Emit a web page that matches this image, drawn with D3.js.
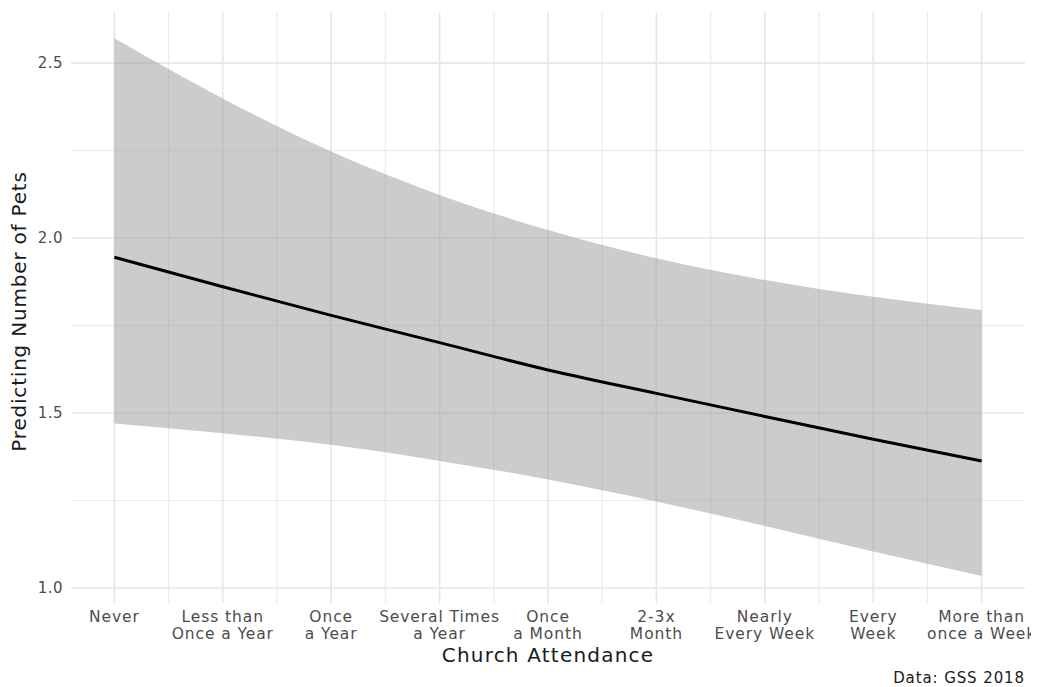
<!DOCTYPE html>
<html>
<head>
<meta charset="utf-8">
<script src="https://cdn.jsdelivr.net/npm/d3@7"></script>
<style>
  body { margin: 0; background: #fff; }
  text { font-family: "DejaVu Sans", sans-serif; }
</style>
</head>
<body>
<div id="chart"></div>
<script>
// categories on the x axis (two-line labels)
var categories = ["Never", "Less than Once a Year", "Once a Year", "Several Times a Year",
    "Once a Month", "2-3x Month", "Nearly Every Week", "Every Week", "More than once a Week"];
var labelLines = [["Never"], ["Less than", "Once a Year"], ["Once", "a Year"], ["Several Times", "a Year"],
    ["Once", "a Month"], ["2-3x", "Month"], ["Nearly", "Every Week"], ["Every", "Week"], ["More than", "once a Week"]];

// predicted values and confidence band
var predicted = [1.945, 1.861, 1.779, 1.701, 1.623, 1.556, 1.490, 1.425, 1.363];
var upper = [2.571, 2.399, 2.247, 2.123, 2.023, 1.942, 1.880, 1.832, 1.794];
var lower = [1.470, 1.442, 1.409, 1.363, 1.310, 1.247, 1.177, 1.104, 1.034];

var yTicks = [1.0, 1.5, 2.0, 2.5];
var yMinor = [1.25, 1.75, 2.25];

var width = 1045, height = 687;
var panel = { left: 71, right: 1025, top: 12, bottom: 603 };

var svg = d3.select("#chart")
    .append("svg")
    .attr("width", width)
    .attr("height", height);

let x = d3.scalePoint()
    .domain(categories)
    .range([panel.left, panel.right])
    .padding(0.4);

let y = d3.scaleLinear()
    .domain([0.957, 2.646])
    .range([panel.bottom, panel.top]);

let data = categories.map(function (c, i) {
    return { cat: c, fit: predicted[i], hi: upper[i], lo: lower[i] };
});

// grid
let grid = svg.append("g").attr("class", "grid");
let step = x.step();
let minorX = categories.slice(0, -1).map(function (c) { return x(c) + step / 2; });

grid.selectAll(".vminor")
    .data(minorX)
    .enter()
    .append("line")
    .attr("x1", function (d) { return d; })
    .attr("x2", function (d) { return d; })
    .attr("y1", panel.top)
    .attr("y2", panel.bottom)
    .attr("stroke", "#ebebeb")
    .attr("stroke-width", 1.2);

grid.selectAll(".hminor")
    .data(yMinor)
    .enter()
    .append("line")
    .attr("x1", panel.left)
    .attr("x2", panel.right)
    .attr("y1", function (d) { return y(d); })
    .attr("y2", function (d) { return y(d); })
    .attr("stroke", "#ebebeb")
    .attr("stroke-width", 1.2);

grid.selectAll(".vmajor")
    .data(categories)
    .enter()
    .append("line")
    .attr("x1", function (d) { return x(d); })
    .attr("x2", function (d) { return x(d); })
    .attr("y1", panel.top)
    .attr("y2", panel.bottom)
    .attr("stroke", "#e6e6e6")
    .attr("stroke-width", 1.6);

grid.selectAll(".hmajor")
    .data(yTicks)
    .enter()
    .append("line")
    .attr("x1", panel.left)
    .attr("x2", panel.right)
    .attr("y1", function (d) { return y(d); })
    .attr("y2", function (d) { return y(d); })
    .attr("stroke", "#e6e6e6")
    .attr("stroke-width", 1.6);

// confidence band
let band = d3.area()
    .x(function (d) { return x(d.cat); })
    .y0(function (d) { return y(d.lo); })
    .y1(function (d) { return y(d.hi); })
    .curve(d3.curveMonotoneX);

svg.append("path")
    .datum(data)
    .attr("d", band)
    .attr("fill", "#999999")
    .attr("fill-opacity", 0.5);

let line = d3.line()
    .x(function (d) { return x(d.cat); })
    .y(function (d) { return y(d.fit); })
    .curve(d3.curveMonotoneX);

svg.append("path")
    .datum(data)
    .attr("d", line)
    .attr("fill", "none")
    .attr("stroke", "#000")
    .attr("stroke-width", 3);

// y axis labels
svg.selectAll(".ylab")
    .data(yTicks)
    .enter()
    .append("text")
    .attr("x", 63)
    .attr("y", function (d) { return y(d); })
    .attr("dy", "0.35em")
    .attr("text-anchor", "end")
    .attr("font-size", 15)
    .attr("letter-spacing", 0.5)
    .attr("fill", "#4d4d4d")
    .text(function (d) { return d.toFixed(1); });

// x axis labels, clipped at the right edge like the original
svg.append("clipPath")
    .attr("id", "xclip")
    .append("rect")
    .attr("x", 0).attr("y", 0)
    .attr("width", 1031).attr("height", height);

let xl = svg.append("g").attr("clip-path", "url(#xclip)");
let xlab = xl.selectAll(".xlab")
    .data(categories)
    .enter()
    .append("text")
    .attr("text-anchor", "middle")
    .attr("font-size", 15.5)
    .attr("letter-spacing", 0.9)
    .attr("fill", "#4d4d4d");

xlab.each(function (d, i) {
    let lines = labelLines[i];
    let t = d3.select(this);
    lines.forEach(function (s, k) {
        t.append("tspan")
            .attr("x", x(d))
            .attr("y", 622 + k * 17)
            .text(s);
    });
});

// titles
svg.append("text")
    .attr("x", (panel.left + panel.right) / 2)
    .attr("y", 662)
    .attr("text-anchor", "middle")
    .attr("font-size", 20)
    .attr("letter-spacing", 1.2)
    .attr("fill", "#1a1a1a")
    .text("Church Attendance");

svg.append("text")
    .attr("transform", "translate(26," + ((panel.top + panel.bottom) / 2 + 4) + ") rotate(-90)")
    .attr("text-anchor", "middle")
    .attr("font-size", 20)
    .attr("letter-spacing", 0.8)
    .attr("fill", "#1a1a1a")
    .text("Predicting Number of Pets");

svg.append("text")
    .attr("x", panel.right)
    .attr("y", 683)
    .attr("text-anchor", "end")
    .attr("font-size", 15)
    .attr("letter-spacing", 0.9)
    .attr("fill", "#1a1a1a")
    .text("Data: GSS 2018");
</script>
</body>
</html>
